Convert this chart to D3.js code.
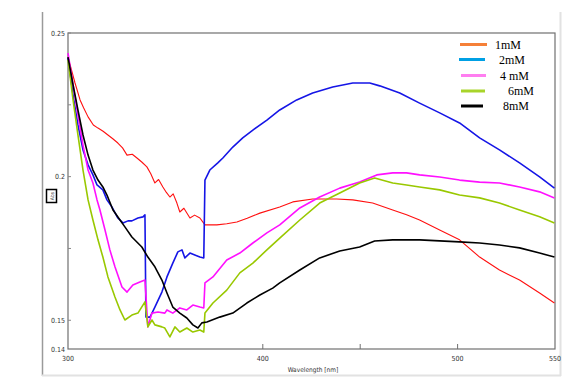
<!DOCTYPE html>
<html><head><meta charset="utf-8">
<script src="https://cdn.jsdelivr.net/npm/d3@7"></script>
<style>html,body{margin:0;padding:0;background:#fff;}svg{display:block;}</style>
</head><body>
<script>
const seriesNames = ["1mM","2mM","4 mM","6mM","8mM"];
const lineColors = ["#ff1010","#1515e6","#ff10ff","#99c800","#000000"];
const legendColors = ["#f58038","#00a0e4","#ff7ef0","#a8d42a","#000000"];

const wl1 = [300,303.6,306.2,308,310.3,313,315.4,318,320.5,323,325.6,328,330.3,333,335.4,338,340.5,342.5,344.6,346.5,348.7,350.5,352.3,354,355.9,357.4,359.5,362.6,365,367.7,370.3,373,376.4,381.5,386.7,392,398.5,408.7,415.4,425.6,437.9,446.2,456.4,466.7,473.8,480.5,490.8,501,511.3,521.5,531.8,542.1,549.7];
const ab1 = [0.2416,0.2326,0.2267,0.2240,0.2208,0.2180,0.2169,0.2158,0.2145,0.2132,0.2117,0.2100,0.2075,0.2078,0.2065,0.2050,0.2034,0.2010,0.1978,0.1990,0.1964,0.1945,0.1929,0.1940,0.1908,0.1877,0.1890,0.1856,0.1866,0.1856,0.1832,0.1832,0.1832,0.1836,0.1842,0.1855,0.1873,0.1894,0.1912,0.1922,0.1922,0.1919,0.1908,0.1884,0.1867,0.1849,0.1814,0.1780,0.1720,0.1675,0.1640,0.1595,0.1560];

const wl2 = [300,302.6,305.1,307.7,310.3,312.8,314.9,317.9,320,322.6,325.6,328.2,330.8,332.8,335.9,338.5,339.5,340,342.1,344.6,348.2,350.8,353.8,356.4,358.5,360,362.6,365.1,367.7,369.7,370.3,372.8,376.9,379.5,384.6,389.7,394.9,402.1,408.7,417.4,425.6,435.9,446.2,454.9,460,470.3,480.5,490.8,501,511.3,521.5,531.8,542.1,549.7];
const ab2 = [0.2413,0.2284,0.2180,0.2093,0.2041,0.2006,0.1971,0.1954,0.1919,0.1894,0.1856,0.1839,0.1846,0.1846,0.1856,0.1860,0.1867,0.1511,0.1511,0.1546,0.1598,0.1651,0.1699,0.1738,0.1745,0.1717,0.1734,0.1727,0.1720,0.1717,0.1988,0.2023,0.2048,0.2065,0.2103,0.2135,0.2162,0.2197,0.2232,0.2267,0.2291,0.2312,0.2326,0.2326,0.2316,0.2291,0.2256,0.2222,0.2187,0.2135,0.2093,0.2048,0.1999,0.1960];

const wl4 = [300,302.6,305.1,307.7,310.3,312.8,314.9,316.4,319,321.5,324.1,327.7,330.3,333.3,336.9,339.5,341,343.1,346.2,349.7,350.8,353.8,357.4,361,364.1,367.7,369.7,370.3,374.4,381.5,388.2,394.9,402.1,408.7,419,429.2,439.5,449.7,458.5,466.7,473.8,480.5,490.8,501,511.3,521.5,531.8,542.1,549.7];
const ab4 = [0.2430,0.2319,0.2215,0.2110,0.2023,0.1978,0.1919,0.1884,0.1814,0.1745,0.1686,0.1616,0.1598,0.1623,0.1633,0.1640,0.1477,0.1525,0.1529,0.1525,0.1536,0.1525,0.1543,0.1536,0.1553,0.1546,0.1543,0.1630,0.1651,0.1710,0.1734,0.1769,0.1804,0.1832,0.1891,0.1929,0.1960,0.1981,0.2006,0.2013,0.2013,0.2006,0.1999,0.1988,0.1981,0.1978,0.1964,0.1947,0.1926];

const wl6 = [300,302.6,305.1,307.7,310.3,312.8,315.4,317.9,320.5,324.1,326.7,329.2,332.8,335.9,339.5,341,343.1,344.6,348.2,349.7,352.3,354.9,357.4,361,364.1,367.7,369.7,370.3,374.4,381.5,388.2,394.9,402.1,408.7,419,429.2,439.5,449.7,457.4,466.7,473.8,480.5,490.8,501,511.3,521.5,531.8,542.1,549.7];
const ab6 = [0.2406,0.2267,0.2145,0.2023,0.1919,0.1849,0.1780,0.1720,0.1651,0.1581,0.1536,0.1501,0.1518,0.1525,0.1564,0.1477,0.1501,0.1484,0.1477,0.1473,0.1442,0.1477,0.1459,0.1473,0.1459,0.1466,0.1459,0.1525,0.1560,0.1605,0.1665,0.1699,0.1745,0.1786,0.1849,0.1908,0.1943,0.1978,0.1995,0.1978,0.1971,0.1964,0.1954,0.1936,0.1926,0.1908,0.1884,0.1860,0.1839];

const wl8 = [300,302.6,305.1,307.7,310.3,312.8,315.4,317.9,320,323.1,326.7,329.2,332.8,337.9,341,344.6,348.2,350.8,353.8,357.4,361,364.1,366.7,368.7,371.3,377.9,384.6,391.8,398.5,405.1,408.7,419,429.2,439.5,449.7,457.4,466.7,480.5,501,511.3,521.5,531.8,542.1,549.7];
const ab8 = [0.2416,0.2319,0.2232,0.2145,0.2075,0.2023,0.1988,0.1964,0.1936,0.1884,0.1849,0.1825,0.1790,0.1755,0.1720,0.1686,0.1640,0.1595,0.1546,0.1525,0.1508,0.1484,0.1473,0.1491,0.1494,0.1511,0.1525,0.1560,0.1588,0.1612,0.1630,0.1675,0.1717,0.1741,0.1755,0.1776,0.1780,0.1780,0.1773,0.1769,0.1762,0.1752,0.1734,0.1720];

const xTickVals = [300,400,500,550];
const xTickLabels = ["300","400","500","550"];
const yTickVals = [0.25,0.2,0.15,0.14];
const yTickLabels = ["0.25","0.2","0.15","0.14"];
const xMinorTicks = [400,450,500];
const yMinorTicks = [0.225,0.175];

const W = 565, H = 382;
const svg = d3.select("body").append("svg").attr("width",W).attr("height",H);
const x = d3.scaleLinear().domain([300,550]).range([68,555]);
const y = d3.scaleLinear().domain([0.14,0.25]).range([349,33]);

// outer frame
svg.append("line").attr("x1",42.5).attr("x2",42.5).attr("y1",12).attr("y2",376).attr("stroke","#9a9a9a").attr("stroke-width",1.5);
svg.append("line").attr("x1",42).attr("x2",561).attr("y1",375.5).attr("y2",375.5).attr("stroke","#e2e2e2").attr("stroke-width",2);
svg.append("line").attr("x1",560.5).attr("x2",560.5).attr("y1",12).attr("y2",376).attr("stroke","#e2e2e2").attr("stroke-width",2);

// plot frame
svg.append("rect").attr("x",68).attr("y",33).attr("width",487).attr("height",316)
  .attr("fill","none").attr("stroke","#707070").attr("stroke-width",1.2);

const font = "'DejaVu Sans Condensed','DejaVu Sans',sans-serif";
// x ticks
svg.selectAll(".xt").data(xMinorTicks).enter().append("line")
  .attr("x1",d=>x(d)).attr("x2",d=>x(d)).attr("y1",349).attr("y2",344).attr("stroke","#707070");
svg.selectAll(".xl").data(xTickVals).enter().append("text")
  .attr("x",d=>x(d)).attr("y",361).attr("text-anchor","middle")
  .attr("font-family",font).attr("font-size",7).attr("fill","#333")
  .text((d,i)=>xTickLabels[i]);
// y ticks
svg.selectAll(".yt").data(yMinorTicks.concat([0.25,0.2,0.15])).enter().append("line")
  .attr("x1",68).attr("x2",71).attr("y1",d=>y(d)).attr("y2",d=>y(d)).attr("stroke","#888");
svg.selectAll(".yl").data(yTickVals).enter().append("text")
  .attr("x",65).attr("y",d=>y(d)+2.5).attr("text-anchor","end")
  .attr("font-family",font).attr("font-size",7).attr("fill","#333")
  .text((d,i)=>yTickLabels[i]);

svg.append("text").attr("x",313).attr("y",372).attr("text-anchor","middle")
  .attr("font-family",font).attr("font-size",6.5).attr("fill","#333").text("Wavelength [nm]");
// y label box
svg.append("rect").attr("x",46.5).attr("y",189.5).attr("width",10).attr("height",13)
  .attr("fill","#fff").attr("stroke","#000").attr("stroke-width",1.5);
svg.append("text").attr("transform","translate(54,196) rotate(-90)").attr("text-anchor","middle")
  .attr("font-family",font).attr("font-size",5).attr("fill","#333").text("Abs");

const series = [[wl1,ab1],[wl2,ab2],[wl4,ab4],[wl6,ab6],[wl8,ab8]];
const widths = [1.1,1.6,1.6,1.6,1.6];
const line = d3.line().x(d=>x(d[0])).y(d=>y(d[1]));
const g = svg.append("g");
series.forEach((s,i)=>{
  const pts = s[0].map((w,k)=>[w,s[1][k]]);
  g.append("path").datum(pts).attr("d",line).attr("fill","none")
    .attr("stroke",lineColors[i]).attr("stroke-width",widths[i]).attr("stroke-linejoin","round");
});

// legend
const legY = [44.5,59.5,75.5,91,106];
const legX1 = [460,459,461,461,461];
const legX2 = [487,485,486,485,483];
const labX = [495,499,500,508,503];
seriesNames.forEach((n,i)=>{
  svg.append("line").attr("x1",legX1[i]).attr("x2",legX2[i]).attr("y1",legY[i]).attr("y2",legY[i])
    .attr("stroke",legendColors[i]).attr("stroke-width",3);
  svg.append("text").attr("x",labX[i]).attr("y",legY[i]+4).attr("font-family","'Liberation Serif','Times New Roman',serif")
    .attr("font-size",12).attr("fill","#000").text(n);
});
</script>
</body></html>
